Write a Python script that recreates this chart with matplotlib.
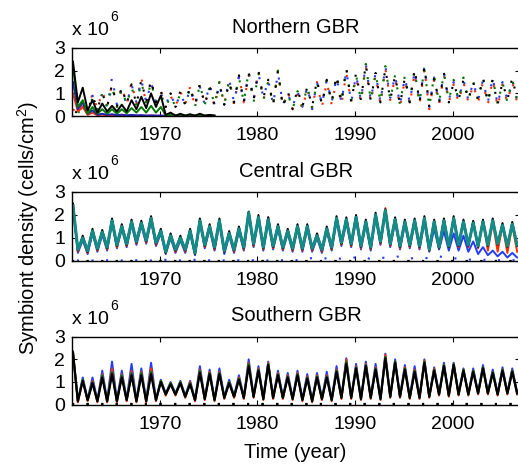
import matplotlib
matplotlib.use('Agg')
import matplotlib.pyplot as plt
import numpy as np

plt.rcParams['font.family'] = ['Liberation Sans', 'DejaVu Sans']
plt.rcParams['mathtext.fontset'] = 'custom'
plt.rcParams['mathtext.rm'] = 'Liberation Sans'

# one peak and one trough per year, 1961..2006 (values in 10^6 cells/cm^2)
years = np.arange(1961, 2007)

# ---- Northern GBR: solid lines die out around 1970
north_black_pk = [2.4, 1.25, 0.7, 0.55, 0.45, 0.5, 0.7, 0.85, 1.0, 0.9, 0.15, 0.1, 0.08, 0.1, 0.05]
north_black_tr = [0.6, 0.25, 0.15, 0.2, 0.2, 0.2, 0.3, 0.35, 0.4, 0.05, 0.02, 0.02, 0.02, 0.02, 0.02]
north_green_pk = [2.2, 0.7, 0.4, 0.3, 0.3, 0.3, 0.35, 0.4, 0.45, 0.4, 0.05, 0.04, 0.03, 0.03, 0.03]
north_green_tr = [0.4, 0.1, 0.1, 0.1, 0.1, 0.12, 0.15, 0.15, 0.15, 0.02, 0.02, 0.02, 0.02, 0.02, 0.02]
north_blue_pk = [1.5, 0.6, 0.25, 0.1, 0.08, 0.06, 0.05, 0.04, 0.03, 0.02]
north_blue_tr = [0.3, 0.1, 0.06, 0.05, 0.04, 0.03, 0.03, 0.02, 0.02, 0.01]
north_red_pk = [1.0, 0.4, 0.15, 0.06, 0.04, 0.03, 0.02, 0.02, 0.02, 0.01]
north_red_tr = [0.2, 0.05, 0.03, 0.02, 0.02, 0.02, 0.01, 0.01, 0.01, 0.0]

# Northern GBR dotted lines
north_dot_red_pk = [0.3, 0.6, 1.0, 1.1, 1.4, 1.3, 1.5, 1.7, 1.6, 1.1, 0.9, 1.1, 1.3, 1.4, 1.3, 1.5,
                    1.6, 1.8, 1.8, 2.0, 1.5, 2.0, 1.1, 1.0, 1.2, 1.5, 1.5, 1.6, 1.9, 1.7, 2.2, 1.8,
                    2.1, 1.7, 1.6, 1.9, 2.1, 1.6, 1.8, 1.4, 1.5, 1.4, 1.5, 1.6, 1.4, 1.5]
north_dot_red_tr = [0.1, 0.2, 0.3, 0.4, 0.4, 0.5, 0.5, 0.5, 0.6, 0.4, 0.4, 0.5, 0.4, 0.5, 0.4, 0.5,
                    0.5, 0.6, 0.7, 0.7, 0.5, 0.4, 0.3, 0.3, 0.3, 0.4, 0.5, 0.5, 0.6, 0.6, 0.6, 0.5,
                    0.7, 0.4, 0.5, 0.5, 0.3, 0.5, 0.6, 0.6, 0.6, 0.6, 0.5, 0.4, 0.6, 0.6]
north_dot_blue_pk = [0.2, 0.5, 0.9, 1.0, 1.7, 1.2, 1.4, 1.6, 1.5, 1.0, 1.0, 1.0, 1.2, 1.3, 1.4, 1.4,
                     1.6, 1.7, 1.9, 1.9, 1.6, 1.9, 1.0, 1.1, 1.3, 1.5, 1.6, 1.7, 2.0, 1.8, 2.3, 1.9,
                     2.2, 1.8, 1.7, 2.0, 2.2, 1.7, 1.9, 1.5, 1.6, 1.5, 1.6, 1.7, 1.5, 1.6]
north_dot_blue_tr = [0.1, 0.2, 0.3, 0.4, 0.5, 0.5, 0.6, 0.6, 0.6, 0.5, 0.4, 0.5, 0.5, 0.5, 0.5, 0.5,
                     0.6, 0.6, 0.7, 0.8, 0.5, 0.5, 0.4, 0.4, 0.3, 0.5, 0.6, 0.6, 0.6, 0.7, 0.7, 0.6,
                     0.8, 0.5, 0.6, 0.6, 0.4, 0.6, 0.7, 0.7, 0.7, 0.7, 0.6, 0.5, 0.7, 0.7]
north_dot_green_pk = [0.2, 0.5, 0.8, 1.0, 1.3, 1.2, 1.3, 1.5, 1.5, 1.0, 0.9, 1.0, 1.3, 1.4, 1.3, 1.5,
                      1.6, 1.7, 2.0, 1.9, 1.5, 2.0, 1.0, 1.1, 1.3, 1.5, 1.6, 1.8, 2.1, 1.8, 2.3, 1.9,
                      2.2, 1.8, 1.8, 2.0, 2.1, 1.8, 1.9, 1.6, 1.7, 1.5, 1.7, 1.7, 1.5, 1.6]
north_dot_green_tr = [0.1, 0.2, 0.3, 0.4, 0.4, 0.5, 0.5, 0.6, 0.6, 0.4, 0.4, 0.5, 0.4, 0.5, 0.5, 0.5,
                      0.6, 0.6, 0.6, 0.7, 0.5, 0.4, 0.3, 0.4, 0.4, 0.5, 0.6, 0.6, 0.7, 0.7, 0.7, 0.6,
                      0.7, 0.5, 0.6, 0.6, 0.4, 0.6, 0.7, 0.7, 0.7, 0.7, 0.6, 0.5, 0.6, 0.7]
north_dot_black_pk = [0.3, 0.5, 0.9, 1.0, 1.4, 1.3, 1.4, 1.6, 1.6, 1.1, 1.0, 1.1, 1.3, 1.4, 1.3, 1.4,
                      1.5, 1.8, 1.9, 2.0, 1.6, 2.0, 1.1, 1.2, 1.3, 1.6, 1.6, 1.8, 2.1, 1.9, 2.3, 1.9,
                      2.1, 1.8, 1.7, 2.1, 2.2, 1.7, 1.9, 1.5, 1.6, 1.5, 1.7, 1.6, 1.5, 1.7]
north_dot_black_tr = [0.1, 0.2, 0.3, 0.4, 0.4, 0.5, 0.5, 0.6, 0.6, 0.4, 0.4, 0.5, 0.5, 0.5, 0.5, 0.5,
                      0.6, 0.6, 0.7, 0.8, 0.5, 0.4, 0.3, 0.4, 0.4, 0.5, 0.6, 0.6, 0.6, 0.7, 0.7, 0.6,
                      0.7, 0.5, 0.6, 0.6, 0.4, 0.6, 0.6, 0.7, 0.7, 0.7, 0.6, 0.5, 0.7, 0.7]

# ---- Central GBR
central_teal_pk = [2.4, 1.0, 1.3, 1.25, 1.75, 1.5, 1.7, 1.65, 1.85, 1.3, 1.1, 1.0, 1.3, 1.75, 1.5, 1.75,
                   1.2, 1.4, 2.1, 1.9, 1.8, 1.5, 1.3, 1.5, 1.5, 1.1, 1.4, 1.85, 1.8, 1.9, 1.7, 2.0,
                   2.2, 1.8, 1.7, 1.75, 1.85, 1.7, 1.75, 1.85, 1.7, 1.65, 1.7, 1.75, 1.55, 1.6]
central_teal_tr = [0.5, 0.45, 0.55, 0.6, 0.7, 0.75, 0.85, 0.9, 0.8, 0.4, 0.5, 0.5, 0.35, 0.7, 0.6, 0.45,
                   0.5, 0.6, 0.75, 0.6, 0.65, 0.6, 0.55, 0.55, 0.55, 0.5, 0.6, 0.8, 0.75, 0.65, 0.6, 0.85,
                   0.75, 0.65, 0.7, 0.65, 0.5, 0.6, 0.65, 0.7, 0.7, 0.65, 0.7, 0.75, 0.65, 0.7]
central_black_pk = [2.5, 1.1, 1.4, 1.35, 1.85, 1.6, 1.8, 1.75, 1.95, 1.4, 1.2, 1.1, 1.4, 1.85, 1.6, 1.85,
                    1.3, 1.5, 2.15, 2.0, 1.9, 1.6, 1.4, 1.6, 1.6, 1.2, 1.5, 1.95, 1.9, 2.0, 1.8, 2.1,
                    2.25, 1.9, 1.8, 1.85, 1.95, 1.8, 1.85, 1.95, 1.8, 1.75, 1.8, 1.85, 1.65, 1.7]
central_black_tr = [0.45, 0.4, 0.5, 0.55, 0.65, 0.7, 0.8, 0.85, 0.75, 0.35, 0.45, 0.45, 0.3, 0.65, 0.55, 0.4,
                    0.45, 0.55, 0.7, 0.55, 0.6, 0.55, 0.5, 0.5, 0.5, 0.45, 0.55, 0.75, 0.7, 0.6, 0.55, 0.8,
                    0.7, 0.6, 0.65, 0.6, 0.45, 0.55, 0.6, 0.65, 0.65, 0.6, 0.65, 0.7, 0.6, 0.65]
central_blue_pk = [2.3, 0.9, 1.2, 1.15, 1.65, 1.4, 1.6, 1.55, 1.75, 1.2, 1.0, 0.9, 1.2, 1.65, 1.4, 1.65,
                   1.1, 1.3, 2.0, 1.8, 1.7, 1.4, 1.2, 1.4, 1.4, 1.0, 1.3, 1.75, 1.7, 1.8, 1.6, 1.9,
                   2.1, 1.7, 1.6, 1.65, 1.7, 1.4, 1.3, 1.2, 1.1, 0.85, 0.6, 0.45, 0.4, 0.35]
central_blue_tr = [0.35, 0.3, 0.4, 0.45, 0.55, 0.6, 0.7, 0.75, 0.65, 0.3, 0.35, 0.35, 0.25, 0.55, 0.45, 0.3,
                   0.35, 0.45, 0.6, 0.45, 0.5, 0.45, 0.4, 0.4, 0.4, 0.35, 0.45, 0.65, 0.6, 0.5, 0.45, 0.7,
                   0.6, 0.5, 0.55, 0.5, 0.4, 0.5, 0.45, 0.45, 0.4, 0.3, 0.25, 0.2, 0.15, 0.15]
central_red_pk = [2.4, 1.0, 1.3, 1.25, 1.75, 1.5, 1.7, 1.65, 1.85, 1.3, 1.1, 1.0, 1.3, 1.75, 1.5, 1.75,
                  1.2, 1.4, 2.1, 1.9, 1.9, 1.5, 1.3, 1.5, 1.5, 1.1, 1.4, 1.85, 1.8, 1.9, 1.7, 2.0,
                  2.3, 1.8, 1.7, 1.75, 1.85, 1.7, 1.75, 1.85, 1.75, 1.7, 1.75, 1.7, 1.55, 1.55]
central_red_tr = [0.4, 0.35, 0.45, 0.5, 0.6, 0.65, 0.75, 0.8, 0.7, 0.35, 0.4, 0.4, 0.3, 0.6, 0.5, 0.4,
                  0.4, 0.5, 0.65, 0.5, 0.55, 0.5, 0.45, 0.45, 0.45, 0.4, 0.5, 0.7, 0.65, 0.55, 0.5, 0.75,
                  0.65, 0.55, 0.6, 0.55, 0.45, 0.55, 0.6, 0.6, 0.6, 0.55, 0.45, 0.4, 0.35, 0.4]
central_dot_blue = [0.02, 0.02, 0.02, 0.03, 0.02, 0.02, 0.03, 0.02, 0.02, 0.05, 0.03, 0.02, 0.05, 0.03,
                    0.02, 0.02, 0.04, 0.02, 0.03, 0.02, 0.02, 0.03, 0.02, 0.05, 0.12, 0.08, 0.15, 0.1,
                    0.12, 0.18, 0.1, 0.15, 0.12, 0.2, 0.1, 0.15, 0.12, 0.2, 0.15, 0.1, 0.05, 0.08,
                    0.04, 0.03, 0.05, 0.03]

# ---- Southern GBR
south_black_pk = [2.3, 1.05, 0.95, 1.2, 1.35, 1.2, 1.3, 1.3, 1.35, 1.0, 0.9, 0.95, 0.9, 1.4, 1.35, 1.35,
                  0.95, 1.1, 1.7, 1.5, 1.75, 1.3, 1.2, 1.3, 1.15, 1.2, 1.2, 1.45, 1.8, 1.6, 1.7, 1.55,
                  2.05, 1.85, 1.55, 1.45, 1.85, 1.5, 1.7, 1.75, 1.5, 1.45, 1.6, 1.4, 1.5, 1.45]
south_black_tr = [0.15, 0.2, 0.15, 0.15, 0.15, 0.2, 0.15, 0.15, 0.2, 0.45, 0.45, 0.35, 0.2, 0.25, 0.2, 0.3,
                  0.35, 0.3, 0.35, 0.25, 0.3, 0.3, 0.25, 0.2, 0.15, 0.25, 0.2, 0.3, 0.3, 0.25, 0.3, 0.25,
                  0.35, 0.35, 0.3, 0.3, 0.35, 0.45, 0.4, 0.45, 0.45, 0.5, 0.5, 0.45, 0.5, 0.5]
south_blue_pk = [2.2, 1.2, 1.2, 1.5, 1.9, 1.5, 1.8, 1.6, 1.85, 1.1, 1.0, 1.05, 1.05, 1.7, 1.55, 1.6,
                 1.1, 1.3, 2.0, 1.7, 1.9, 1.5, 1.4, 1.5, 1.35, 1.4, 1.45, 1.7, 2.05, 1.8, 1.9, 1.8,
                 2.25, 2.0, 1.75, 1.7, 2.0, 1.65, 1.85, 1.85, 1.6, 1.6, 1.75, 1.55, 1.65, 1.6]
south_blue_tr = [0.2, 0.25, 0.2, 0.2, 0.2, 0.25, 0.2, 0.2, 0.25, 0.5, 0.5, 0.4, 0.25, 0.3, 0.25, 0.35,
                 0.4, 0.35, 0.4, 0.3, 0.35, 0.35, 0.3, 0.25, 0.2, 0.3, 0.25, 0.35, 0.35, 0.3, 0.35, 0.3,
                 0.4, 0.4, 0.35, 0.35, 0.4, 0.5, 0.45, 0.5, 0.5, 0.55, 0.55, 0.5, 0.55, 0.55]
south_red_pk = [2.3, 1.1, 1.05, 1.35, 1.6, 1.35, 1.5, 1.45, 1.6, 1.05, 0.95, 1.0, 1.0, 1.55, 1.45, 1.45,
                1.0, 1.2, 1.85, 1.6, 1.85, 1.4, 1.3, 1.4, 1.25, 1.3, 1.3, 1.55, 2.0, 1.7, 1.8, 1.65,
                2.2, 1.9, 1.65, 1.55, 1.95, 1.6, 1.75, 1.8, 1.55, 1.5, 1.65, 1.45, 1.55, 1.5]
south_red_tr = [0.1, 0.15, 0.1, 0.1, 0.1, 0.15, 0.1, 0.1, 0.15, 0.4, 0.4, 0.3, 0.15, 0.2, 0.15, 0.25,
                0.3, 0.25, 0.3, 0.2, 0.25, 0.25, 0.2, 0.15, 0.1, 0.2, 0.15, 0.25, 0.25, 0.2, 0.25, 0.2,
                0.3, 0.3, 0.25, 0.25, 0.3, 0.4, 0.35, 0.4, 0.4, 0.45, 0.45, 0.4, 0.45, 0.45]
south_green_pk = [2.35, 1.1, 1.0, 1.3, 1.45, 1.3, 1.4, 1.4, 1.45, 1.05, 0.95, 1.0, 0.95, 1.5, 1.4, 1.4,
                  1.0, 1.15, 1.8, 1.55, 1.8, 1.35, 1.25, 1.35, 1.2, 1.25, 1.25, 1.5, 1.9, 1.65, 1.75, 1.6,
                  2.1, 1.9, 1.6, 1.5, 1.9, 1.55, 1.75, 1.8, 1.55, 1.5, 1.65, 1.45, 1.55, 1.5]
south_green_tr = [0.15, 0.2, 0.15, 0.15, 0.15, 0.2, 0.15, 0.15, 0.2, 0.45, 0.45, 0.35, 0.2, 0.25, 0.2, 0.3,
                  0.35, 0.3, 0.35, 0.25, 0.3, 0.3, 0.25, 0.2, 0.15, 0.25, 0.2, 0.3, 0.3, 0.25, 0.3, 0.25,
                  0.35, 0.35, 0.3, 0.3, 0.35, 0.45, 0.4, 0.45, 0.45, 0.5, 0.5, 0.45, 0.5, 0.5]

# near-zero dotted series in central/southern panels
zero_years = [1961, 2007]
zero_vals = [0.01, 0.01]

titles = ['Northern GBR', 'Central GBR', 'Southern GBR']

RED = '#ff2a00'
BLUE = '#1f3cff'
GREEN = '#007a00'
BLACK = '#000000'
TEAL = '#138b86'
DOT = (0, (1, 6))


def zigzag(pk, tr):
    n = len(pk)
    t = np.empty(2 * n)
    v = np.empty(2 * n)
    t[0::2] = years[:n] + 0.1
    t[1::2] = years[:n] + 0.6
    v[0::2] = pk
    v[1::2] = tr
    return t, v


def dotted(ax, pk, tr, color, offset=0):
    t, v = zigzag(pk, tr)
    ax.plot(t, v, color=color, lw=1.5, linestyle=(offset, DOT[1]))


def solid(ax, pk, tr, color, lw=1.4):
    t, v = zigzag(pk, tr)
    ax.plot(t, v, color=color, lw=lw, solid_joinstyle='round')


fig = plt.figure(figsize=(5.18, 4.66), dpi=100)
ax1 = fig.add_axes([0.139, 0.751, 0.865, 0.146])
ax2 = fig.add_axes([0.139, 0.440, 0.865, 0.148])
ax3 = fig.add_axes([0.139, 0.1316, 0.865, 0.146])

# northern
dotted(ax1, north_dot_red_pk, north_dot_red_tr, RED, 0)
dotted(ax1, north_dot_blue_pk, north_dot_blue_tr, BLUE, 2)
dotted(ax1, north_dot_green_pk, north_dot_green_tr, GREEN, 4)
dotted(ax1, north_dot_black_pk, north_dot_black_tr, BLACK, 5.5)
solid(ax1, north_red_pk, north_red_tr, RED)
solid(ax1, north_blue_pk, north_blue_tr, '#2020c0')
solid(ax1, north_green_pk, north_green_tr, GREEN)
solid(ax1, north_black_pk, north_black_tr, BLACK)

# central
for c in [RED, GREEN, BLACK]:
    ax2.plot(zero_years, zero_vals, color=c, lw=1.5, linestyle=DOT)
ax2.plot(years + 0.5, central_dot_blue, color=BLUE, lw=1.5, linestyle=DOT)
solid(ax2, central_blue_pk, central_blue_tr, BLUE)
solid(ax2, central_red_pk, central_red_tr, RED)
solid(ax2, central_black_pk, central_black_tr, BLACK)
solid(ax2, central_teal_pk, central_teal_tr, TEAL, lw=2.2)

# southern
for c in [RED, BLUE, GREEN, BLACK]:
    ax3.plot(zero_years, zero_vals, color=c, lw=1.5, linestyle=DOT)
solid(ax3, south_blue_pk, south_blue_tr, BLUE)
solid(ax3, south_red_pk, south_red_tr, RED)
solid(ax3, south_green_pk, south_green_tr, GREEN)
solid(ax3, south_black_pk, south_black_tr, BLACK, lw=1.6)

for ax, title in zip([ax1, ax2, ax3], titles):
    ax.set_xlim(1961, 2006.9)
    ax.set_ylim(0, 3)
    ax.set_xticks([1970, 1980, 1990, 2000])
    ax.set_yticks([0, 1, 2, 3])
    ax.tick_params(direction='in', top=True, right=True, length=3.5, width=0.8,
                   labelsize=14)
    ax.tick_params(axis='x', pad=8)
    ax.tick_params(axis='y', pad=5)
    for s in ax.spines.values():
        s.set_linewidth(1.0)
    ax.set_title(title, fontsize=14.5, pad=11)
    ax.annotate('x 10', xy=(0, 1), xycoords='axes fraction', xytext=(0, 9),
                textcoords='offset points', ha='left', va='baseline', fontsize=14)
    ax.annotate('6', xy=(0, 1), xycoords='axes fraction', xytext=(27.5, 19.5),
                textcoords='offset points', ha='left', va='baseline', fontsize=10)

fig.text(0.054, 0.511, 'Symbiont density (cells/cm$^2$)', rotation=90,
         ha='center', va='center', fontsize=14.5)
fig.text(0.57, 0.03, 'Time (year)', ha='center', va='center', fontsize=14.5)

fig.savefig('out.png', dpi=100)
